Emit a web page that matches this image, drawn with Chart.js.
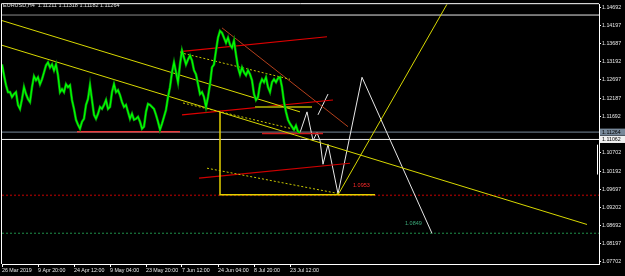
<!DOCTYPE html>
<html><head><meta charset="utf-8">
<script src="https://cdn.jsdelivr.net/npm/chart.js@4/dist/chart.umd.min.js"></script>
<style>html,body{margin:0;padding:0;background:#000;overflow:hidden}canvas{display:block}</style>
</head><body>
<canvas id="c" width="625" height="276"></canvas>
<script>
// ---------- data ----------
const headerText = "EURUSD,H4  1.11211 1.11318 1.11182 1.11264";
const timeLabels = ["26 Mar 2019","9 Apr 20:00","24 Apr 12:00","9 May 04:00","23 May 20:00","7 Jun 12:00","24 Jun 04:00","8 Jul 20:00","23 Jul 12:00"];
const samplesPerLabel = 18;          // price samples between two time labels
const windowSamples = 298.5;         // visible width of the chart window, in samples
const priceTicks = [1.14692,1.14197,1.13687,1.13192,1.12697,1.12187,1.11692,1.10702,1.10192,1.09697,1.09202,1.08692,1.08197,1.07702];
const priceMin = 1.07646, priceMax = 1.14773;

const closes = [
1.13120,1.12822,1.12551,1.12361,1.12361,1.12226,1.12307,1.12361,1.12009,1.11900,
1.12171,1.12497,1.12307,1.12171,1.12090,1.12497,1.12795,1.12686,1.12768,1.12578,
1.12713,1.12903,1.13093,1.13174,1.13039,1.13120,1.12957,1.13120,1.12822,1.12361,
1.12442,1.12361,1.12578,1.12497,1.12551,1.12144,1.11900,1.11602,1.11467,1.11358,
1.11548,1.11629,1.12009,1.12171,1.12551,1.12144,1.11738,1.11629,1.11765,1.11955,
1.11900,1.12009,1.12144,1.11900,1.11955,1.12361,1.12578,1.12361,1.12415,1.12280,
1.12090,1.11955,1.12009,1.11819,1.11629,1.11765,1.11602,1.11629,1.11684,1.11548,
1.11358,1.11413,1.11819,1.12036,1.12009,1.11955,1.11900,1.11738,1.11548,1.11331,
1.11494,1.11684,1.11873,1.12226,1.12497,1.12903,1.13174,1.12903,1.12632,1.13120,
1.13499,1.13310,1.13120,1.13255,1.13364,1.13228,1.12957,1.12849,1.12578,1.12307,
1.12361,1.12226,1.11955,1.12226,1.12578,1.13039,1.13120,1.13499,1.13852,1.14041,
1.13987,1.13852,1.13716,1.13852,1.13662,1.13581,1.13770,1.13391,1.13039,1.12849,
1.13039,1.12903,1.12822,1.12957,1.12849,1.12686,1.12307,1.12144,1.12226,1.12578,
1.12713,1.12632,1.12768,1.12497,1.12361,1.12632,1.12713,1.12632,1.12740,1.12768,
1.12497,1.12090,1.11819,1.11602,1.11494,1.11413,1.11331,1.11440,1.11277,1.11250];

const bidPrice = 1.11264;
const hLinePrice = 1.11062;
const topLinePrice = 1.14475;
const topLineSplit = 149;
const targetUp = 1.0953;
const targetDown = 1.0849;
const shiftMarker = [1.10920, 1.10100];   // short bright mark on the price scale

// trend objects: [sample, price] points
const yellowLong   = [[0,1.13646],[292.5,1.08730]];
const yellowUpper  = [[0,1.14323],[149,1.11819]];
const yellowDotA   = [[89,1.13445],[144,1.12713]];
const yellowDotB   = [[90.5,1.12063],[149,1.11304]];
const yellowDotC   = [[102.5,1.10274],[169,1.09570]];
const yellowBracket= [[109,1.11819],[109,1.09543],[186.5,1.09543]];
const yellowRise   = [[168,1.09543],[222.5,1.14773]];
const oliveFlat    = [[126.5,1.11955],[155,1.11955]];
const redFlatA     = [[37.5,1.11277],[89,1.11277]];
const redFlatB     = [[130,1.11223],[160.5,1.11223]];
const redChanTop   = [[89,1.13472],[162.5,1.13879]];
const redChanMid   = [[90,1.11738],[165.5,1.12144]];
const redChanLow   = [[98.5,1.10003],[174,1.10410]];
const brownDiag    = [[110,1.14123],[173,1.11413]];
const whiteZigzag  = [[149,1.11250],[152.5,1.11819],[155.5,1.11033],[157.5,1.11250],[159,1.11033],[160.5,1.10383],[163,1.10925],[168,1.09570],[180,1.12768],[215,1.08486]];
const whiteShort   = [[158,1.11738],[163,1.12307]];
const labelUp   = {text:"1.0953", x:175.5, color:"#ff2a2a"};
const labelDown = {text:"1.0849", x:201.5, color:"#3aa878"};

// ---------- helpers ----------
const FONT = "'Liberation Sans', Arial, sans-serif";
const FSIZE = 5.3;
function seg(pts, color, opts={}) {
  return Object.assign({type:'line', data:pts.map(p=>({x:p[0],y:p[1]})), borderColor:color,
    borderWidth:1, pointRadius:0, fill:false, tension:0, order:2}, opts);
}
function hline(price, color, x0, x1, opts={}) {
  return seg([[x0,price],[x1,price]], color, Object.assign({order:5}, opts));
}

const datasets = [
  hline(topLinePrice, '#8c8c8c', 0, topLineSplit),
  hline(topLinePrice, '#e6e6e6', topLineSplit, windowSamples),
  hline(bidPrice, '#778899', 0, windowSamples, {order:4}),
  hline(hLinePrice, '#f0f0f0', 0, windowSamples, {order:4}),
  hline(targetUp, '#8b0000', 0, windowSamples, {borderDash:[2,2], borderWidth:1.5}),
  hline(targetDown, '#1f8f4a', 0, windowSamples, {borderDash:[2,2]}),
  seg(yellowLong, '#d8d800'),
  seg(yellowUpper, '#d8d800'),
  seg(yellowDotA, '#c8c800', {borderDash:[2,2]}),
  seg(yellowDotB, '#c8c800', {borderDash:[2,2]}),
  seg(yellowDotC, '#c8c800', {borderDash:[2,2]}),
  seg(yellowBracket, '#e6d200', {borderWidth:1.5}),
  seg(yellowRise, '#d8d800'),
  seg(oliveFlat, '#8a8a00', {borderWidth:2}),
  seg(redFlatA, '#e83a3a', {borderWidth:1.5}),
  seg(redFlatB, '#d01818', {borderWidth:1.5}),
  seg(redChanTop, '#e00000', {borderWidth:1.2}),
  seg(redChanMid, '#e00000', {borderWidth:1.2}),
  seg(redChanLow, '#d00000', {borderWidth:1.2}),
  seg(brownDiag, '#b4401c'),
  seg(whiteZigzag, '#e8e8e8'),
  seg(whiteShort, '#e8e8e8'),
  {type:'line', data:closes.map((p,i)=>({x:i,y:p})), borderColor:'#078a07', borderWidth:2.6,
   pointRadius:0, tension:0, order:1},
  {type:'line', data:closes.map((p,i)=>({x:i,y:p})), borderColor:'#00ff00', borderWidth:1.3,
   pointRadius:0, tension:0, order:0}
];

const decor = {
  id:'decor',
  beforeDraw(chart){
    const c=chart.ctx; c.save(); c.fillStyle='#000'; c.fillRect(0,0,chart.width,chart.height); c.restore();
  },
  afterDatasetsDraw(chart){
    const c=chart.ctx, a=chart.chartArea, xs=chart.scales.x, ys=chart.scales.y;
    c.save();
    c.strokeStyle='#ffffff'; c.lineWidth=1;
    c.beginPath(); c.moveTo(a.left-0.5,a.bottom); c.lineTo(a.left-0.5,a.top-0.5); c.lineTo(a.right,a.top-0.5); c.stroke();
    c.beginPath(); c.moveTo(a.right-1.5, ys.getPixelForValue(shiftMarker[0])); c.lineTo(a.right-1.5, ys.getPixelForValue(shiftMarker[1])); c.stroke();
    c.font="5.5px "+FONT; c.textBaseline='middle';
    c.fillStyle='#e0e0e0'; c.textAlign='left';
    c.fillText(headerText, 3, 5.5);
    [labelUp,labelDown].forEach((l,i)=>{
      c.fillStyle=l.color;
      c.fillText(l.text, xs.getPixelForValue(l.x), ys.getPixelForValue(i===0?targetUp:targetDown)-10);
    });
    // price boxes on the axis
    c.font=FSIZE+"px "+FONT;
    [[bidPrice,'#778899'],[hLinePrice,'#f0f0f0']].forEach(([p,col])=>{
      const y=ys.getPixelForValue(p);
      c.fillStyle=col; c.fillRect(a.right+1, y-3.5, 25, 7);
      c.fillStyle='#000'; c.fillText(p.toFixed(5), a.right+3, y);
    });
    c.restore();
  }
};

new Chart(document.getElementById('c'), {
  type:'line',
  data:{datasets},
  options:{
    responsive:false, animation:false, devicePixelRatio:1,
    layout:{padding:{top:1,left:2,right:0,bottom:0}},
    plugins:{legend:{display:false}, tooltip:{enabled:false}},
    scales:{
      x:{type:'linear', min:0, max:windowSamples,
        afterBuildTicks(s){ s.ticks = timeLabels.map((_,i)=>({value:i*samplesPerLabel})); },
        afterFit(s){ s.height=12; },
        ticks:{autoSkip:false, maxRotation:0, align:'start', padding:0, color:'#e8e8e8',
          font:{size:FSIZE, family:FONT},
          callback:(v)=>timeLabels[Math.round(v/samplesPerLabel)]},
        grid:{drawOnChartArea:false, drawTicks:true, tickLength:3, color:'#ffffff'},
        border:{display:true,color:'#ffffff'}},
      y:{type:'linear', position:'right', min:priceMin, max:priceMax,
        afterBuildTicks(s){ s.ticks = priceTicks.map(v=>({value:v})); },
        afterFit(s){ s.width=26; },
        ticks:{autoSkip:false, padding:1, color:'#e8e8e8', font:{size:FSIZE, family:FONT},
          callback:(v)=>v.toFixed(5)},
        grid:{drawOnChartArea:false, drawTicks:true, tickLength:2, color:'#ffffff'},
        border:{display:true,color:'#ffffff'}}
    }
  },
  plugins:[decor]
});
</script>
</body></html>
